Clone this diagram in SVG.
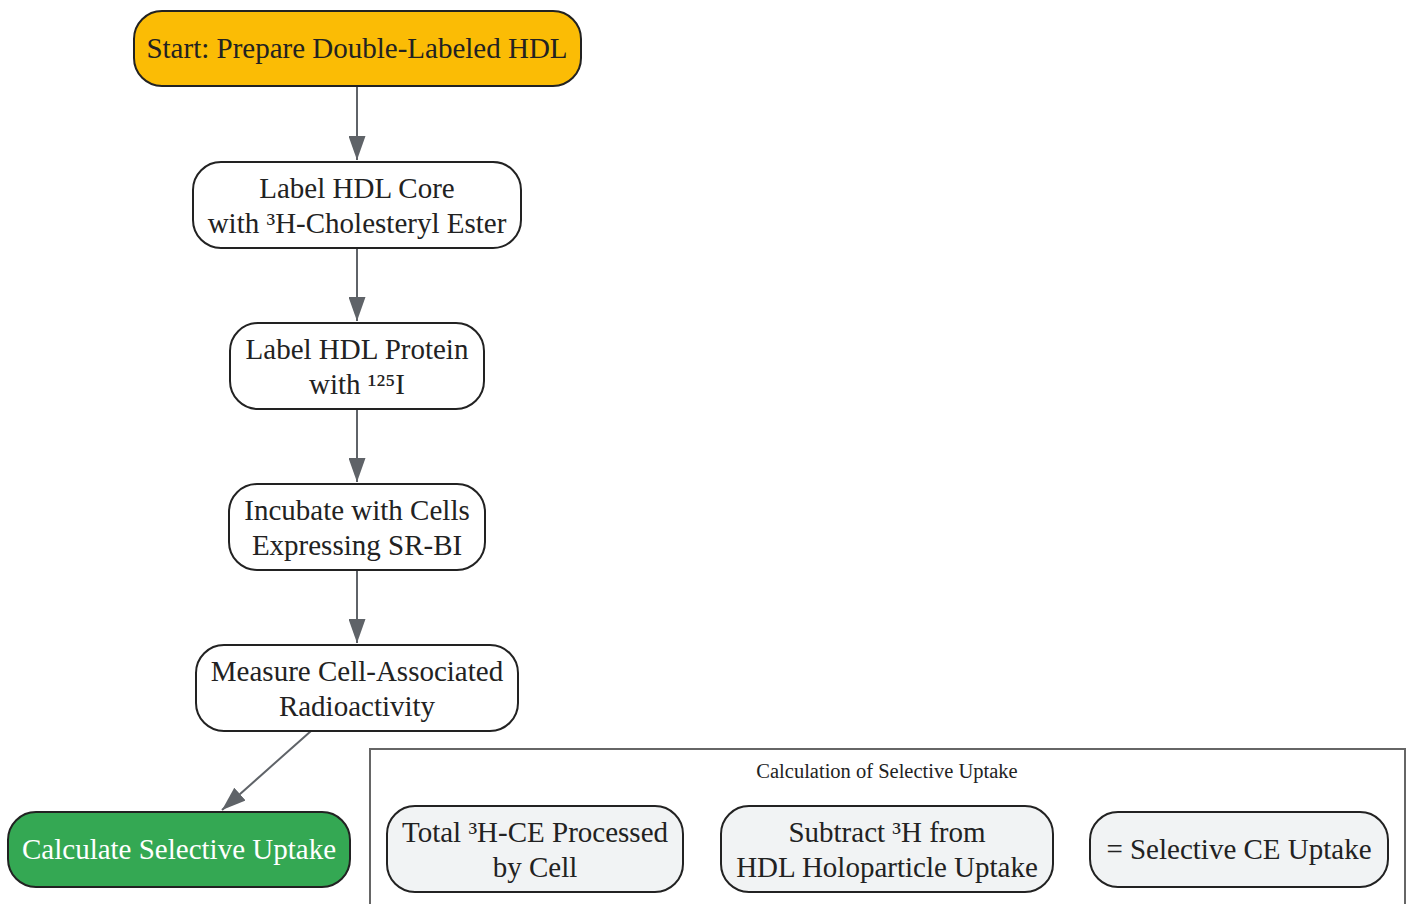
<svg xmlns="http://www.w3.org/2000/svg" width="1410" height="904" viewBox="0 0 1410 904">
<defs>
<marker id="ah" viewBox="0 0 24 17" refX="24" refY="8.5" markerWidth="24" markerHeight="17" markerUnits="userSpaceOnUse" orient="auto">
<path d="M0,0 L24,8.5 L0,17 Z" fill="#5f6368"/>
</marker>
<style>
.n{stroke:#222;stroke-width:2}
.w{fill:#fff}
.g{fill:#f1f3f4}
.t{font-family:"Liberation Serif","Times New Roman",serif;font-size:29px;fill:#222;text-anchor:middle;dominant-baseline:central}
.e{stroke:#5f6368;stroke-width:2;fill:none;marker-end:url(#ah)}
</style>
</defs>
<rect width="1410" height="904" fill="#fff"/>
<g id="cluster">
<rect x="370" y="749" width="1035" height="170" fill="#fff" stroke="#666" stroke-width="2"/>
<text x="887" y="771" font-family="Liberation Serif,serif" font-size="20.5" fill="#222" text-anchor="middle" dominant-baseline="central">Calculation of Selective Uptake</text>
</g>
<g id="connectors">
<path class="e" d="M357,86 L357,160"/>
<path class="e" d="M357,248 L357,321"/>
<path class="e" d="M357,409 L357,482"/>
<path class="e" d="M357,570 L357,643"/>
<path class="e" d="M311,731 L222,810"/>
</g>
<g id="start">
<rect class="n" x="134" y="11" width="447" height="75" rx="28" fill="#fbbc05"/>
<text class="t" x="357" y="48">Start: Prepare Double-Labeled HDL</text>
</g>
<g id="core">
<rect class="n w" x="193" y="162" width="328" height="86" rx="28"/>
<text class="t" x="357" y="188">Label HDL Core</text>
<text class="t" x="357" y="223">with ³H-Cholesteryl Ester</text>
</g>
<g id="protein">
<rect class="n w" x="230" y="323" width="254" height="86" rx="28"/>
<text class="t" x="357" y="349">Label HDL Protein</text>
<text class="t" x="357" y="384">with ¹²⁵I</text>
</g>
<g id="incubate">
<rect class="n w" x="229" y="484" width="256" height="86" rx="28"/>
<text class="t" x="357" y="510">Incubate with Cells</text>
<text class="t" x="357" y="545">Expressing SR-BI</text>
</g>
<g id="measure">
<rect class="n w" x="196" y="645" width="322" height="86" rx="28"/>
<text class="t" x="357" y="671">Measure Cell-Associated</text>
<text class="t" x="357" y="706">Radioactivity</text>
</g>
<g id="calculate">
<rect class="n" x="8" y="812" width="342" height="75" rx="28" fill="#34a853"/>
<text class="t" x="179" y="849" style="fill:#fff">Calculate Selective Uptake</text>
</g>
<g id="total">
<rect class="n g" x="387" y="806" width="296" height="86" rx="28"/>
<text class="t" x="535" y="832">Total ³H-CE Processed</text>
<text class="t" x="535" y="867">by Cell</text>
</g>
<g id="subtract">
<rect class="n g" x="721" y="806" width="332" height="86" rx="28"/>
<text class="t" x="887" y="832">Subtract ³H from</text>
<text class="t" x="887" y="867">HDL Holoparticle Uptake</text>
</g>
<g id="selective">
<rect class="n g" x="1090" y="812" width="298" height="75" rx="28"/>
<text class="t" x="1239" y="849">= Selective CE Uptake</text>
</g>
</svg>
